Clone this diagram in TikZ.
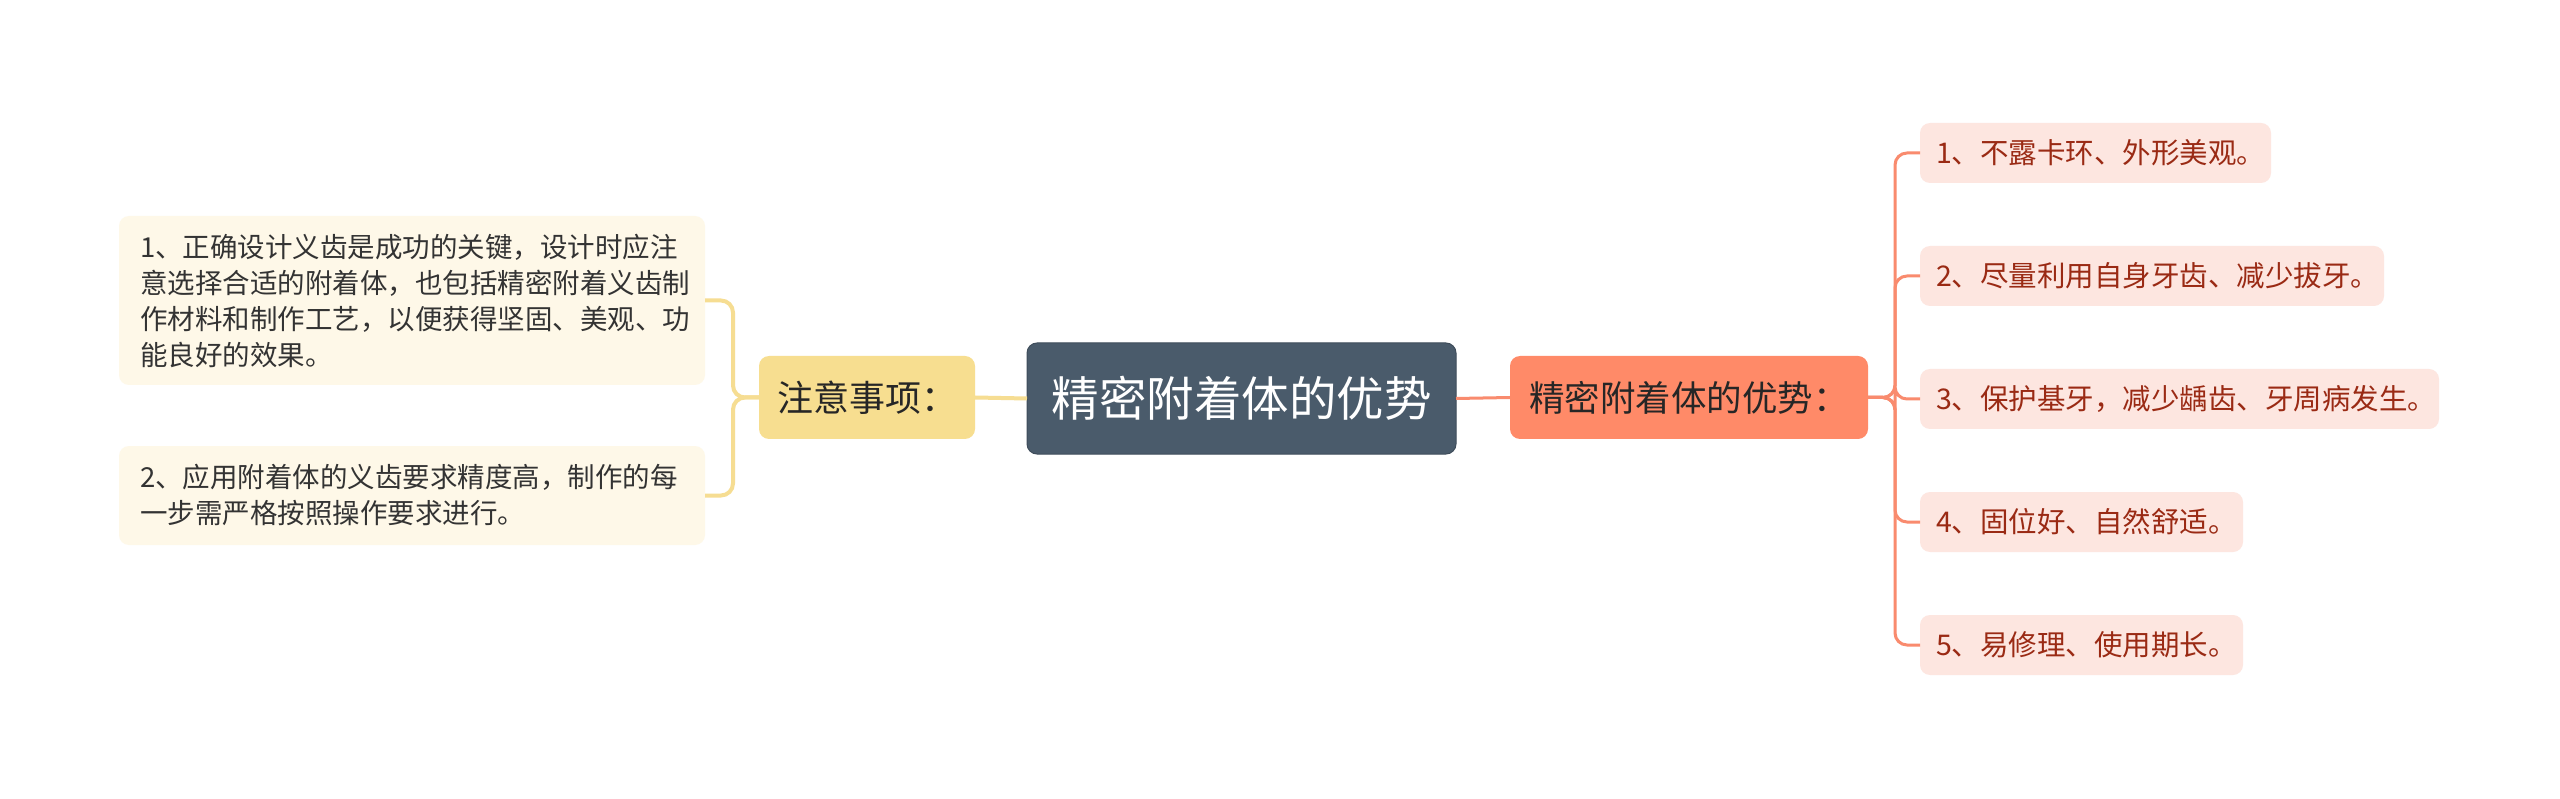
\documentclass[tikz,border=0pt]{standalone}
\usepackage{fontspec}
\setmainfont{Noto Sans CJK SC}
\definecolor{rootbg}{HTML}{4A5B6B}
\definecolor{coral}{HTML}{FF8A68}
\definecolor{coralline}{HTML}{F98B6E}
\definecolor{yelbg}{HTML}{F7DE90}
\definecolor{yelline}{HTML}{F6DD92}
\definecolor{leafbg}{HTML}{FEF8E8}
\definecolor{childbg}{HTML}{FDE6E0}
\definecolor{childtext}{HTML}{9A2A14}
\definecolor{leaftext}{HTML}{333333}
\tikzset{
  box/.style={rounded corners=10pt, inner sep=0pt, outer sep=0pt},
  rootnode/.style={box, fill=rootbg, draw=rootbg!85!black, line width=1pt, text=white, font=\fontsize{47.5}{56}\selectfont, minimum width=429pt, minimum height=111pt},
  mainnode/.style={box, fill=coral, text=black!85, font=\fontsize{35.5}{42}\selectfont, minimum width=358pt, minimum height=83pt},
  attnode/.style={box, fill=yelbg, text=black!85, font=\fontsize{36}{42}\selectfont, minimum width=216pt, minimum height=83pt},
  leafnode/.style={box, fill=leafbg, text=leaftext, font=\fontsize{27.5}{36}\selectfont, align=left, inner xsep=21pt, text width=544pt},
  childnode/.style={box, fill=childbg, text=childtext, font=\fontsize{28.5}{34}\selectfont, align=left, inner xsep=16pt, minimum height=60pt, anchor=west},
  yline/.style={draw=yelline, line width=4pt, rounded corners=12pt},
  cline/.style={draw=coralline, line width=3pt, rounded corners=12pt}
}
\begin{document}
\begin{tikzpicture}[x=1pt,y=-1pt]
\useasboundingbox[fill=white] (0,0) rectangle (2560,799);
% nodes
\node[rootnode] (root) at (1241.5,398.5) {精密附着体的优势};
\node[mainnode] (main) at (1689,397.5) {精密附着体的优势：};
\node[attnode] (att) at (867,397.5) {注意事项：};
\node[leafnode, minimum height=169pt] (l1) at (412,300.5) {1、正确设计义齿是成功的关键，设计时应注\\意选择合适的附着体，也包括精密附着义齿制\\作材料和制作工艺，以便获得坚固、美观、功\\能良好的效果。};
\node[leafnode, minimum height=99pt] (l2) at (412,495.5) {2、应用附着体的义齿要求精度高，制作的每\\一步需严格按照操作要求进行。};
\node[childnode, text width=319pt] (c1) at (1920,153) {\mbox{1、不露卡环、外形美观。}};
\node[childnode, text width=432pt] (c2) at (1920,276) {\mbox{2、尽量利用自身牙齿、减少拔牙。}};
\node[childnode, text width=487pt] (c3) at (1920,399) {\mbox{3、保护基牙，减少龋齿、牙周病发生。}};
\node[childnode, text width=291pt] (c4) at (1920,522) {\mbox{4、固位好、自然舒适。}};
\node[childnode, text width=291pt] (c5) at (1920,645) {\mbox{5、易修理、使用期长。}};
% connectors
\draw[yline] (root.west) -- (att.east);
\draw[cline] (root.east) -- (main.west);
\draw[yline] (att.west) -- ++(-26,0) |- (l1.east);
\draw[yline] (att.west) -- ++(-26,0) |- (l2.east);
\foreach \c in {c1,c2,c3,c4,c5}{
  \draw[cline] (main.east) -- ++(27,0) |- (\c.west);
}
\end{tikzpicture}
\end{document}
